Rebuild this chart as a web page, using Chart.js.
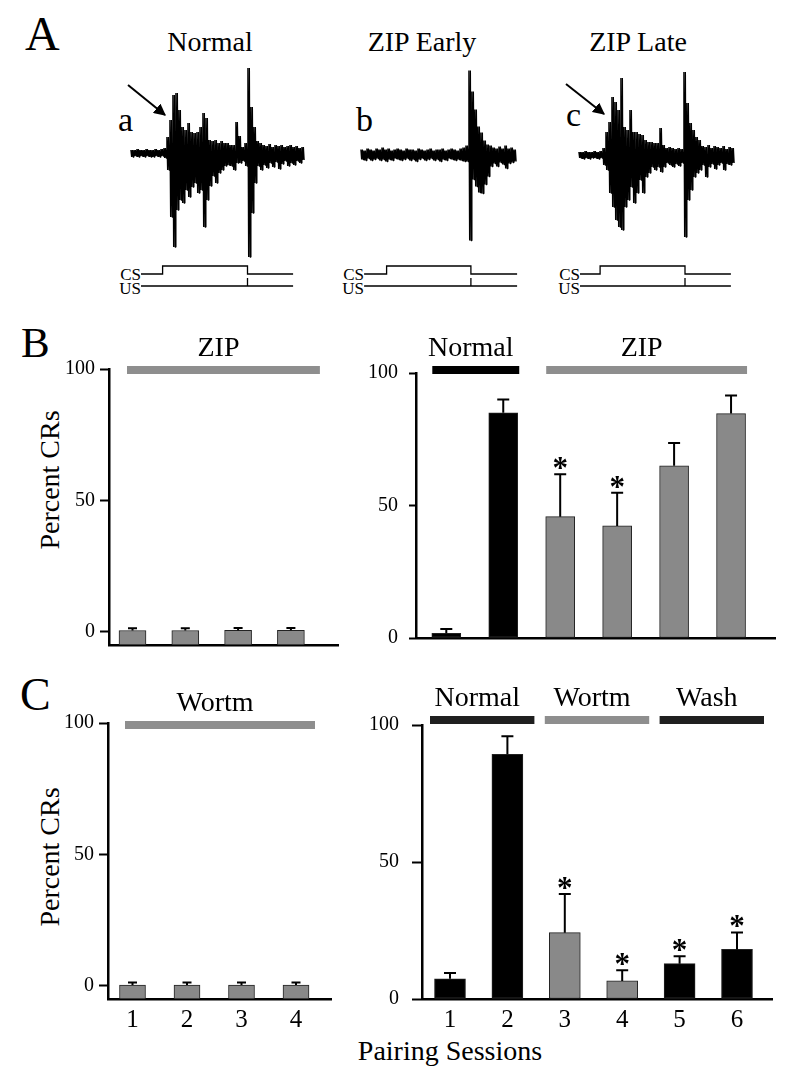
<!DOCTYPE html>
<html>
<head>
<meta charset="utf-8">
<title>Percent CRs across pairing sessions</title>
<script src="https://cdn.jsdelivr.net/npm/chart.js@4.4.1/dist/chart.umd.min.js"></script>
<style>
  html, body { margin: 0; padding: 0; background: #fff; }
  #fig { position: relative; width: 800px; height: 1079px; overflow: hidden;
         font-family: "Liberation Serif", "Times New Roman", serif; color: #000; }
  #fig canvas { position: absolute; }
  #fig svg { position: absolute; left: 0; top: 0; }
  .txt { position: absolute; white-space: nowrap; line-height: 1; }
  .mid { transform: translateX(-50%); }
  .rt { transform: translateX(-100%); }
  .rot { transform: translate(-50%, -50%) rotate(-90deg); }
</style>
</head>
<body>
<div id="fig">
  <!-- panel letters and titles -->
  <div class="txt" style="left:25px;top:10px;font-size:48px">A</div>
  <div class="txt" style="left:21px;top:321px;font-size:43px">B</div>
  <div class="txt" style="left:20px;top:672px;font-size:46px">C</div>

  <div class="txt mid" style="left:210px;top:28px;font-size:28px">Normal</div>
  <div class="txt mid" style="left:422px;top:28px;font-size:28px">ZIP Early</div>
  <div class="txt mid" style="left:638px;top:28px;font-size:28px">ZIP Late</div>

  <div class="txt" style="left:118px;top:103px;font-size:34px">a</div>
  <div class="txt" style="left:356px;top:103px;font-size:34px">b</div>
  <div class="txt" style="left:566px;top:98px;font-size:34px">c</div>

  <div class="txt rt" style="left:141px;top:266px;font-size:17px">CS</div>
  <div class="txt rt" style="left:141px;top:280px;font-size:17px">US</div>
  <div class="txt rt" style="left:364px;top:266px;font-size:17px">CS</div>
  <div class="txt rt" style="left:364px;top:280px;font-size:17px">US</div>
  <div class="txt rt" style="left:580px;top:266px;font-size:17px">CS</div>
  <div class="txt rt" style="left:580px;top:280px;font-size:17px">US</div>

  <div class="txt rot" style="left:50px;top:480px;font-size:28px">Percent CRs</div>
  <div class="txt rot" style="left:50px;top:857px;font-size:28px">Percent CRs</div>
  <div class="txt mid" style="left:450px;top:1037px;font-size:28px">Pairing Sessions</div>

  <!-- arrows pointing at the CR onset -->
  <svg width="800" height="300">
    <defs>
      <marker id="ah" viewBox="0 0 10 10" refX="9" refY="5" markerWidth="6" markerHeight="6" orient="auto">
        <path d="M0,0 L10,5 L0,10 z" fill="#000"/>
      </marker>
    </defs>
    <line x1="128" y1="85" x2="165" y2="115" stroke="#000" stroke-width="2" marker-end="url(#ah)"/>
    <line x1="566" y1="84" x2="604" y2="114" stroke="#000" stroke-width="2" marker-end="url(#ah)"/>
  </svg>
</div>

<script>
// ---------------- Panel A: example nerve recordings ----------------
// each trace is stored as the upper / lower envelope per 10 ms bin (display units)
const binMs = 10;

const normalHi = [3,3,4,3,3,4,3,3,4,3,4,5,
  16,33,58,60,43,26,23,30,21,20,21,26,40,35,13,12,13,10,12,10,10,8,8,31,17,6,10,85,46,26,12,10,
  8,7,9,6,8,7,8,6,7,8,6,7,5,6];
const normalLo = [-4,-3,-4,-3,-4,-3,-4,-4,-3,-4,-3,-5,
  -17,-64,-94,-57,-47,-50,-37,-44,-34,-30,-40,-37,-74,-47,-33,-23,-30,-20,-17,-13,-12,-13,-17,-10,-10,-8,-13,-104,-60,-30,-13,-17,
  -12,-15,-10,-14,-9,-16,-11,-8,-13,-10,-12,-8,-10,-7];

const earlyHi = [5,4,6,5,4,6,5,7,5,6,4,5,6,5,4,6,5,5,4,6,5,4,5,6,4,5,5,6,4,5,6,5,4,6,7,
  9,84,63,45,28,22,14,10,9,
  7,6,8,6,9,6,7,5];
const earlyLo = [-5,-6,-4,-6,-5,-4,-6,-5,-7,-5,-6,-4,-5,-6,-5,-4,-6,-5,-7,-5,-4,-6,-5,-4,-6,-5,-7,-5,-6,-4,-5,-6,-5,-6,-7,
  -7,-86,-25,-32,-38,-39,-30,-22,-12,
  -9,-12,-8,-10,-14,-9,-8,-7];

const lateHi = [3,3,4,3,3,4,3,4,
  7,23,33,58,53,45,77,28,25,45,23,23,21,20,15,13,13,12,12,27,10,7,8,7,6,7,6,
  83,52,32,25,18,15,
  9,8,10,7,9,8,7,9,6,8,7];
const lateLo = [-3,-4,-3,-4,-3,-3,-4,-3,
  -10,-15,-38,-52,-65,-72,-75,-52,-45,-32,-48,-38,-25,-38,-22,-18,-12,-15,-12,-17,-12,-8,-10,-12,-9,-11,-8,
  -82,-45,-35,-22,-18,-15,
  -10,-22,-12,-9,-14,-10,-8,-15,-9,-10,-8];

// stimulus timing (ms from start of the trace); US arrives at CS offset
const stimStartMs = [30, 7, 0];
const csOnMs = [102, 82, 67];
const csOffMs = [385, 363, 350];
const stimEndMs = [537, 517, 503];

// ---------------- Panels B and C: percent CRs ----------------
const sessionsPre = [1, 2, 3, 4];
const sessions = [1, 2, 3, 4, 5, 6];
const yTicks = [0, 50, 100];

const zipPreMean = [0.5, 0.5, 0.6, 0.6];
const zipPreSem = [0.9, 0.9, 0.9, 0.9];
const zipPreTreat = ['ZIP', 'ZIP', 'ZIP', 'ZIP'];

const zipMean = [1.8, 85, 45.8, 42.3, 65, 84.7];
const zipSem = [1.6, 5, 16, 12.5, 8.6, 6.8];
const zipTreat = ['Normal', 'Normal', 'ZIP', 'ZIP', 'ZIP', 'ZIP'];
const zipSig = [false, false, true, true, false, false];

const wortPreMean = [0.3, 0.3, 0.3, 0.3];
const wortPreSem = [1, 1, 1, 1];
const wortPreTreat = ['Wortm', 'Wortm', 'Wortm', 'Wortm'];

const wortMean = [7.4, 89.3, 24.2, 6.6, 12.9, 18.1];
const wortSem = [2.1, 6.6, 14.1, 3.9, 2.7, 6.2];
const wortTreat = ['Normal', 'Normal', 'Wortm', 'Wortm', 'Wash', 'Wash'];
const wortSig = [false, false, true, true, true, true];

// ---------------- styles / layout ----------------
const SERIF = "'Liberation Serif', 'Times New Roman', serif";
Chart.defaults.font.family = SERIF;
Chart.defaults.color = '#000';
Chart.defaults.animation = false;
Chart.defaults.plugins.legend.display = false;
Chart.defaults.plugins.tooltip.enabled = false;

const GRAY = '#898989';
const barFill = { Normal: '#000', ZIP: GRAY, Wortm: GRAY, Wash: '#000' };
const groupFillB = { Normal: '#000', ZIP: '#8e8e8e' };
const groupFillC = { Normal: '#1f1f1f', Wortm: '#8e8e8e', Wash: '#1f1f1f' };

const traceCols = [
  { left: 110, width: 200, x0: 132, base: 153 },
  { left: 340, width: 185, x0: 362, base: 154.5 },
  { left: 555, width: 190, x0: 580, base: 155 }
];
const pxPerMs = 0.3;
const traceTop = 55, traceH = 210;
const stimTop = 258, stimH = 40, stimBase = 274, stimUnit = 8;
const zigPerBin = 2;   // how many up/down strokes are drawn per envelope bin

const barLayouts = {
  bPre:  { cvLeft: 0,   cvTop: 320, cvW: 360, cvH: 342, areaL: 109, areaR: 338, areaT: 369, areaB: 646,
           first: 132.5, step: 52.8, yMin: -5, xAxisH: 0, tickLen: 9, tickPad: 5, barW: 27, capW: 9,
           groupPad: [5.5, 29], groupDy: 1 },
  bPost: { cvLeft: 340, cvTop: 320, cvW: 460, cvH: 341, areaL: 416, areaR: 775, areaT: 373, areaB: 645,
           first: 446.3, step: 56.95, yMin: 0, xAxisH: 0, tickLen: 7, tickPad: 11, barW: 29, capW: 12,
           groupPad: [14, 16], groupDy: -3 },
  cPre:  { cvLeft: 0,   cvTop: 670, cvW: 360, cvH: 370, areaL: 108, areaR: 331, areaT: 723, areaB: 999,
           first: 132.5, step: 54.5, yMin: -5, xAxisH: 40, tickLen: 9, tickPad: 5, barW: 26, capW: 9,
           groupPad: [7.5, 19], groupDy: 2 },
  cPost: { cvLeft: 340, cvTop: 670, cvW: 460, cvH: 370, areaL: 422, areaR: 772, areaT: 725, areaB: 999,
           first: 450, step: 57.4, yMin: 0, xAxisH: 40, tickLen: 10, tickPad: 13, barW: 31, capW: 12,
           groupPad: [20, 27], groupDy: -5 }
};

function makeCanvas(id, left, top, w, h) {
  const c = document.createElement('canvas');
  c.id = id;
  c.width = w; c.height = h;
  c.style.left = left + 'px'; c.style.top = top + 'px';
  c.style.width = w + 'px'; c.style.height = h + 'px';
  document.getElementById('fig').appendChild(c);
  return c;
}

// consecutive sessions with the same treatment -> one bar above the plot
function runsOf(treat) {
  const runs = [];
  treat.forEach((t, i) => {
    const last = runs[runs.length - 1];
    if (last && last.name === t) last.to = i;
    else runs.push({ name: t, from: i, to: i });
  });
  return runs;
}

// ---------------- panel A charts ----------------
function tracePanel(c, hi, lo) {
  const col = traceCols[c];
  const xMin = (col.left - col.x0) / pxPerMs;
  const xMax = (col.left + col.width - col.x0) / pxPerMs;

  // zig-zag between the upper and lower envelope of each bin
  const pts = [];
  const dt = binMs / (2 * zigPerBin);
  for (let i = 0; i < hi.length; i++) {
    for (let k = 0; k < zigPerBin; k++) {
      const t = i * binMs - binMs / 2 + (2 * k + 0.5) * dt;
      pts.push({ x: t, y: hi[i] });
      pts.push({ x: t + dt, y: lo[i] });
    }
  }

  new Chart(makeCanvas('trace' + c, col.left, traceTop, col.width, traceH), {
    type: 'line',
    data: { datasets: [{ data: pts, borderColor: '#000', borderWidth: 1.3, pointRadius: 0,
                         borderJoinStyle: 'bevel', tension: 0 }] },
    options: {
      responsive: false,
      layout: { padding: 0 },
      scales: {
        x: { type: 'linear', display: false, min: xMin, max: xMax },
        y: { type: 'linear', display: false, min: col.base - traceTop - traceH, max: col.base - traceTop }
      }
    }
  });

  // CS (tone) and US markers below the trace
  const on = csOnMs[c], off = csOffMs[c], s0 = stimStartMs[c], s1 = stimEndMs[c];
  const cs = [{ x: s0, y: 0 }, { x: on, y: 0 }, { x: on, y: 1 }, { x: off, y: 1 }, { x: off, y: 0 }, { x: s1, y: 0 }];
  const us = [{ x: s0, y: -1.5 }, { x: off, y: -1.5 }, { x: off, y: -0.5 }, { x: off, y: -1.5 }, { x: s1, y: -1.5 }];

  new Chart(makeCanvas('stim' + c, col.left, stimTop, col.width, stimH), {
    type: 'line',
    data: { datasets: [
      { data: cs, borderColor: '#000', borderWidth: 1.3, pointRadius: 0, tension: 0 },
      { data: us, borderColor: '#000', borderWidth: 1.3, pointRadius: 0, tension: 0 }
    ] },
    options: {
      responsive: false,
      layout: { padding: 0 },
      scales: {
        x: { type: 'linear', display: false, min: xMin, max: xMax },
        y: { type: 'linear', display: false,
             min: (stimBase - stimTop - stimH) / stimUnit, max: (stimBase - stimTop) / stimUnit }
      }
    }
  });
}

tracePanel(0, normalHi, normalLo);
tracePanel(1, earlyHi, earlyLo);
tracePanel(2, lateHi, lateLo);

// ---------------- panels B / C charts ----------------
function barPanel(id, L, x, mean, sem, treat, sig, groupFill, showX) {
  const runs = runsOf(treat);

  const extras = {
    id: 'extras',
    afterDatasetsDraw(chart) {
      const { ctx, chartArea } = chart;
      const sx = chart.scales.x, sy = chart.scales.y;
      ctx.save();
      ctx.strokeStyle = '#000';
      ctx.fillStyle = '#000';
      ctx.lineWidth = 2;
      x.forEach((v, i) => {
        const px = sx.getPixelForValue(v);
        const top = sy.getPixelForValue(mean[i]);
        const err = sy.getPixelForValue(mean[i] + sem[i]);
        ctx.beginPath();
        ctx.moveTo(px, top);
        ctx.lineTo(px, err);
        ctx.moveTo(px - L.capW / 2, err);
        ctx.lineTo(px + L.capW / 2, err);
        ctx.stroke();
        if (sig[i]) {
          ctx.font = 'bold 31px ' + SERIF;
          ctx.textAlign = 'center';
          ctx.textBaseline = 'alphabetic';
          ctx.fillText('*', px, err + 4);
        }
      });
      runs.forEach(r => {
        const x0 = sx.getPixelForValue(x[r.from]) - L.groupPad[0];
        const x1 = sx.getPixelForValue(x[r.to]) + L.groupPad[1];
        const yc = chartArea.top + L.groupDy;
        ctx.fillStyle = groupFill[r.name];
        ctx.fillRect(x0, yc - 4, x1 - x0, 8);
        ctx.fillStyle = '#000';
        ctx.font = '28px ' + SERIF;
        ctx.textAlign = 'center';
        ctx.textBaseline = 'alphabetic';
        ctx.fillText(r.name, (x0 + x1) / 2 - 5, yc - 14);
      });
      ctx.restore();
    }
  };

  new Chart(makeCanvas(id, L.cvLeft, L.cvTop, L.cvW, L.cvH), {
    type: 'bar',
    data: {
      datasets: [{
        data: x.map((v, i) => ({ x: v, y: mean[i] })),
        backgroundColor: treat.map(t => barFill[t]),
        borderColor: '#222',
        borderWidth: 1,
        borderSkipped: false,
        barThickness: L.barW,
        base: L.yMin
      }]
    },
    options: {
      responsive: false,
      layout: { padding: {
        left: 0,
        top: L.areaT - L.cvTop,
        right: L.cvLeft + L.cvW - L.areaR,
        bottom: L.cvTop + L.cvH - L.areaB - L.xAxisH
      } },
      scales: {
        x: {
          type: 'linear',
          offset: false,
          min: 1 + (L.areaL - L.first) / L.step,
          max: 1 + (L.areaR - L.first) / L.step,
          afterBuildTicks: s => { s.ticks = x.map(v => ({ value: v })); },
          afterFit: s => { s.height = L.xAxisH; },
          ticks: { display: showX, font: { size: 25 }, padding: 6, color: '#000', maxRotation: 0 },
          grid: { display: false, drawTicks: false },
          border: { display: true, color: '#000', width: 2.5 }
        },
        y: {
          type: 'linear',
          min: L.yMin,
          max: 100,
          afterBuildTicks: s => { s.ticks = yTicks.map(v => ({ value: v })); },
          afterFit: s => { s.width = L.areaL - L.cvLeft; },
          ticks: { font: { size: 20 }, padding: L.tickPad, color: '#000' },
          grid: { display: true, drawOnChartArea: false, drawTicks: true, tickLength: L.tickLen,
                  tickWidth: 2, color: '#000' },
          border: { display: true, color: '#000', width: 2.5 }
        }
      }
    },
    plugins: [extras]
  });
}

barPanel('bPre', barLayouts.bPre, sessionsPre, zipPreMean, zipPreSem, zipPreTreat,
         [false, false, false, false], groupFillB, false);
barPanel('bPost', barLayouts.bPost, sessions, zipMean, zipSem, zipTreat, zipSig, groupFillB, false);
barPanel('cPre', barLayouts.cPre, sessionsPre, wortPreMean, wortPreSem, wortPreTreat,
         [false, false, false, false], groupFillC, true);
barPanel('cPost', barLayouts.cPost, sessions, wortMean, wortSem, wortTreat, wortSig, groupFillC, true);
</script>
</body>
</html>
